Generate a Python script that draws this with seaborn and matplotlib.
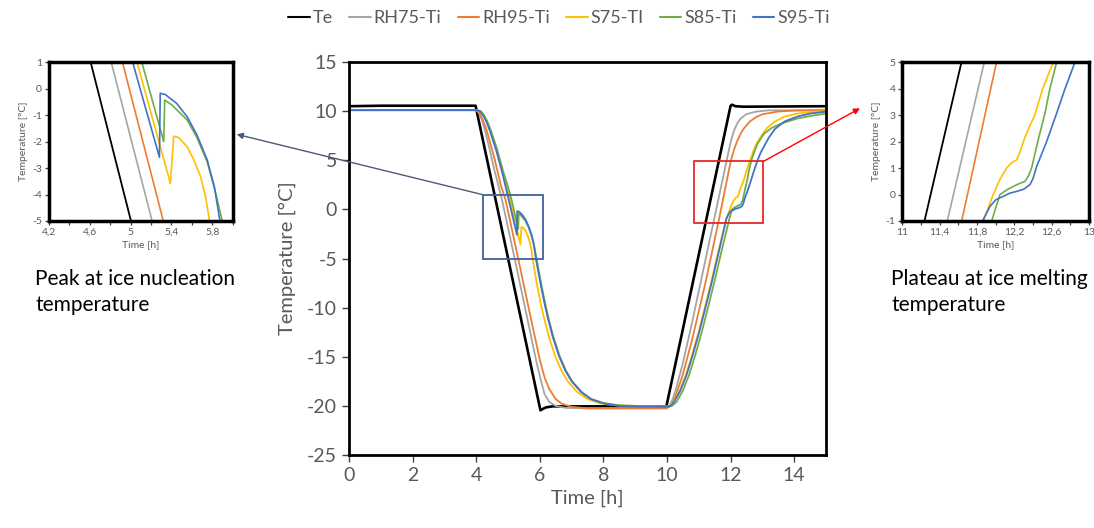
import matplotlib
matplotlib.use("Agg")
import matplotlib.pyplot as plt
import seaborn as sns
import pandas as pd
from matplotlib.patches import Rectangle
from matplotlib.lines import Line2D
from matplotlib.ticker import FixedLocator, FuncFormatter

# ---------------- data ----------------
series_names = ["Te", "RH75-Ti", "RH95-Ti", "S75-TI", "S85-Ti", "S95-Ti"]
series_colors = ["#000000", "#A5A5A5", "#ED7D31", "#FFC000", "#70AD47", "#4472C4"]

te_time = [0.0, 1.0, 2.0, 3.0, 3.98, 6.02, 6.1, 6.2, 6.4, 8.0, 9.98, 12.0, 12.05, 12.15, 12.4, 15.0]
te_temp = [10.5, 10.55, 10.55, 10.55, 10.55, -20.45, -20.3, -20.15, -20.05, -20.05, -20.05, 10.55, 10.65, 10.5, 10.45, 10.5]

rh75_time = [0.0, 3.98, 4.08, 4.18, 4.28, 4.38, 4.58, 4.81, 5.21, 5.6, 5.9, 6.05, 6.15, 6.3, 6.5, 6.8, 7.5,
             9.98, 10.08, 10.18, 10.28, 10.48, 10.78, 11.482, 11.878, 12.0, 12.1, 12.2, 12.3, 12.5, 12.8, 13.2, 15.0]
rh75_temp = [10.1, 10.1, 9.85, 9.1, 8.0, 6.7, 3.9, 1.0, -5.0, -11.0, -15.6, -17.6, -18.8, -19.6, -20.0, -20.2, -20.25,
             -20.25, -20.0, -19.3, -18.3, -15.9, -11.65, -1.0, 5.0, 6.85, 7.95, 8.7, 9.2, 9.7, 9.95, 10.08, 10.1]

rh95_time = [0.0, 3.98, 4.08, 4.18, 4.28, 4.38, 4.58, 4.78, 4.92, 5.32, 5.7, 6.0, 6.15, 6.3, 6.5, 6.7, 7.0, 7.5,
             9.98, 10.08, 10.18, 10.28, 10.48, 10.78, 11.2, 11.636, 12.0, 12.1, 12.2, 12.3, 12.4, 12.6, 12.8, 13.0,
             13.5, 14.0, 15.0]
rh95_temp = [10.1, 10.1, 9.9, 9.3, 8.5, 7.5, 5.1, 2.4, 1.0, -5.0, -10.8, -15.3, -17.1, -18.3, -19.3, -19.8, -20.1, -20.25,
             -20.25, -20.1, -19.6, -18.9, -17.0, -13.4, -7.6, -1.0, 4.85, 6.0, 6.9, 7.6, 8.17, 8.93, 9.39, 9.68,
             9.96, 10.05, 10.1]

s75_time = [0.0, 4.04, 4.14, 4.24, 4.34, 4.44, 4.64, 4.84, 5.062, 5.39, 5.422, 5.47, 5.554, 5.62, 5.685, 5.735,
            5.773, 5.84, 5.93, 6.03, 6.13, 6.28, 6.48, 6.68, 6.88, 7.18, 7.5, 7.9, 8.4, 9.0, 10.0, 10.1, 10.2, 10.4,
            10.6, 10.8, 11.0, 11.2, 11.4, 11.6, 11.77, 11.867, 11.974, 12.05, 12.118, 12.17, 12.225, 12.26, 12.296,
            12.36, 12.42, 12.503, 12.617, 12.7, 12.8, 12.95, 13.15, 13.4, 13.7, 14.1, 14.5, 15.0]
s75_temp = [10.1, 10.1, 9.96, 9.55, 8.9, 8.05, 6.1, 3.75, 1.0, -3.58, -1.79, -1.85, -2.19, -2.7, -3.32, -4.1,
            -5.0, -6.3, -8.0, -9.6, -11.0, -12.9, -14.9, -16.4, -17.5, -18.6, -19.3, -19.75, -19.95, -20.0, -20.05,
            -20.0, -19.6, -18.45, -16.8, -14.7, -12.4, -9.85, -7.25, -4.45, -2.2, -1.0, 0.0, 0.6, 1.0, 1.2, 1.31,
            1.6, 2.0, 2.55, 3.01, 3.99, 5.0, 5.8, 6.6, 7.4, 8.3, 8.95, 9.45, 9.75, 9.9, 10.0]

s85_time = [0.0, 4.05, 4.15, 4.25, 4.35, 4.45, 4.65, 4.85, 5.0, 5.11, 5.324, 5.334, 5.4, 5.554, 5.65, 5.75, 5.83,
            5.898, 5.97, 6.07, 6.17, 6.27, 6.42, 6.62, 6.82, 7.02, 7.32, 7.62, 8.0, 8.5, 9.0, 10.0, 10.15, 10.3,
            10.5, 10.7, 10.9, 11.1, 11.3, 11.5, 11.7, 11.87, 11.957, 12.046, 12.13, 12.225, 12.314, 12.35, 12.385,
            12.456, 12.528, 12.58, 12.653, 12.75, 12.85, 13.05, 13.3, 13.6, 14.1, 14.5, 15.0]
s85_temp = [10.1, 10.1, 9.97, 9.55, 8.95, 8.15, 6.2, 3.85, 2.3, 1.0, -2.0, -0.43, -0.6, -1.18, -1.85, -2.76, -3.9,
            -5.0, -6.3, -8.0, -9.6, -11.0, -12.9, -14.9, -16.4, -17.5, -18.6, -19.3, -19.7, -19.95, -20.0, -20.05,
            -20.0, -19.6, -18.45, -16.8, -14.7, -12.4, -9.85, -7.25, -4.45, -2.2, -1.0, 0.0, 0.2, 0.37, 0.5, 0.7,
            1.0, 2.07, 3.07, 3.99, 5.0, 5.9, 6.7, 7.7, 8.3, 8.75, 9.25, 9.5, 9.75]

s95_time = [0.0, 4.03, 4.13, 4.23, 4.33, 4.43, 4.63, 4.83, 5.02, 5.282, 5.29, 5.34, 5.45, 5.554, 5.65, 5.75, 5.82,
            5.875, 5.95, 6.05, 6.15, 6.25, 6.4, 6.6, 6.8, 7.0, 7.3, 7.6, 8.0, 8.5, 9.0, 10.0, 10.12, 10.22, 10.42,
            10.62, 10.82, 11.02, 11.22, 11.42, 11.62, 11.78, 11.86, 11.939, 12.0, 12.081, 12.15, 12.225, 12.3,
            12.367, 12.4, 12.439, 12.546, 12.653, 12.742, 12.849, 12.95, 13.05, 13.2, 13.4, 13.7, 14.1, 14.5, 15.0]
s95_temp = [10.1, 10.1, 9.95, 9.5, 8.85, 8.0, 6.0, 3.6, 1.0, -2.59, -0.17, -0.22, -0.55, -1.06, -1.75, -2.69, -3.7,
            -5.0, -6.3, -8.0, -9.6, -11.0, -12.9, -14.9, -16.4, -17.5, -18.6, -19.3, -19.75, -20.0, -20.05, -20.1,
            -20.0, -19.6, -18.45, -16.8, -14.7, -12.4, -9.85, -7.25, -4.45, -2.2, -1.0, -0.45, -0.2, -0.07, 0.05,
            0.12, 0.2, 0.37, 0.6, 1.06, 2.0, 3.07, 3.99, 5.0, 5.8, 6.4, 7.3, 8.2, 8.95, 9.45, 9.75, 9.95]

series_time = [te_time, rh75_time, rh95_time, s75_time, s85_time, s95_time]
series_temp = [te_temp, rh75_temp, rh95_temp, s75_temp, s85_temp, s95_temp]

main_xticks = [0, 2, 4, 6, 8, 10, 12, 14]
main_yticks = [-25, -20, -15, -10, -5, 0, 5, 10, 15]
left_xticks = [4.2, 4.6, 5.0, 5.4, 5.8]
left_xminor = [4.4, 4.8, 5.2, 5.6, 6.0]
left_yticks = [-5, -4, -3, -2, -1, 0, 1]
right_xticks = [11.0, 11.4, 11.8, 12.2, 12.6, 13.0]
right_xminor = [11.2, 11.6, 12.0, 12.4, 12.8]
right_yticks = [-1, 0, 1, 2, 3, 4, 5]

nucleation_box = (4.2, -5.05, 6.1, 1.5)    # x0, y0, x1, y1 in data units
melting_box = (10.85, -1.35, 13.03, 4.88)

# ---------------- build table ----------------
frames = [pd.DataFrame({"Time": t, "Temp": T, "Series": n})
          for n, t, T in zip(series_names, series_time, series_temp)]
df = pd.concat(frames, ignore_index=True)

sns.set_style("white")
plt.rcParams["font.family"] = ["Lato", "DejaVu Sans"]
plt.rcParams["axes.unicode_minus"] = False

W, H = 1094, 528
fig = plt.figure(figsize=(W / 100, H / 100), dpi=100)


def px_axes(l, t, r, b):
    return fig.add_axes([l / W, 1 - b / H, (r - l) / W, (b - t) / H])


GRAY = "#595959"
comma = FuncFormatter(lambda v, p: f"{v:g}".replace(".", ","))


def draw_series(a, lw_main, lw_te):
    for n, c in zip(series_names, series_colors):
        sns.lineplot(data=df[df["Series"] == n], x="Time", y="Temp", color=c,
                     lw=lw_te if n == "Te" else lw_main, ax=a, estimator=None,
                     sort=False, legend=False)


# ---------------- main axes ----------------
ax = px_axes(349, 62, 826, 455)
draw_series(ax, 1.3, 1.9)
ax.set_xlim(0, 15)
ax.set_ylim(-25, 15)
ax.xaxis.set_major_locator(FixedLocator(main_xticks))
ax.yaxis.set_major_locator(FixedLocator(main_yticks))
ax.tick_params(bottom=True, left=True, direction="out", length=5, width=1,
               color="#404040", labelcolor=GRAY, labelsize=14)
for s in ax.spines.values():
    s.set_color("black")
    s.set_linewidth(2.0)
ax.set_xlabel("Time [h]", fontsize=14.5, color=GRAY, labelpad=4)
ax.set_ylabel("Temperature [°C]", fontsize=14.5, color=GRAY, labelpad=8)

x0, y0, x1, y1 = nucleation_box
ax.add_patch(Rectangle((x0, y0), x1 - x0, y1 - y0, fill=False, ec="#42609C", lw=1.3, zorder=5))
x0r, y0r, x1r, y1r = melting_box
ax.add_patch(Rectangle((x0r, y0r), x1r - x0r, y1r - y0r, fill=False, ec="#E8262B", lw=1.3, zorder=5))

ax.annotate("", xy=(236.7 / W, 1 - 134.3 / H), xycoords="figure fraction",
            xytext=(x0, y1), textcoords="data", annotation_clip=False,
            arrowprops=dict(arrowstyle="-|>", color="#4A5A78", lw=1.0,
                            shrinkA=0, shrinkB=0, mutation_scale=9))
ax.annotate("", xy=(860 / W, 1 - 108.3 / H), xycoords="figure fraction",
            xytext=(x1r, y1r), textcoords="data", annotation_clip=False,
            arrowprops=dict(arrowstyle="-|>", color="#FF0000", lw=1.0,
                            shrinkA=0, shrinkB=0, mutation_scale=9))

# ---------------- insets ----------------
def style_inset(a, xt, xm, yt, xl, yl):
    draw_series(a, 1.2, 1.3)
    a.set_xlim(*xl)
    a.set_ylim(*yl)
    a.xaxis.set_major_locator(FixedLocator(xt))
    a.xaxis.set_minor_locator(FixedLocator(xm))
    a.yaxis.set_major_locator(FixedLocator(yt))
    a.xaxis.set_major_formatter(comma)
    a.yaxis.set_major_formatter(comma)
    a.tick_params(which="both", bottom=True, left=True, direction="out", length=3,
                  width=0.9, color="#404040", labelcolor=GRAY, labelsize=7.5, pad=2)
    for s in a.spines.values():
        s.set_color("black")
        s.set_linewidth(2.5)
    a.set_xlabel("Time [h]", fontsize=7.5, color=GRAY, labelpad=2)
    a.set_ylabel("Temperature [°C]", fontsize=7.5, color=GRAY, labelpad=3)


ins1 = px_axes(49, 62.3, 232.7, 221)
style_inset(ins1, left_xticks, left_xminor, left_yticks, (4.2, 6.0), (-5, 1))
ins2 = px_axes(902.3, 62.3, 1089, 221)
style_inset(ins2, right_xticks, right_xminor, right_yticks, (11, 13), (-1, 5))

# ---------------- texts ----------------
fig.text(35 / W, 1 - 269 / H, "Peak at ice nucleation\ntemperature", va="top", ha="left",
         fontsize=15, color="black", linespacing=1.35)
fig.text(891 / W, 1 - 269 / H, "Plateau at ice melting\ntemperature", va="top", ha="left",
         fontsize=15, color="black", linespacing=1.35)

# ---------------- legend ----------------
handles = [Line2D([], [], color=c, lw=1.5) for c in series_colors]
fig.legend(handles, series_names, loc="upper center", bbox_to_anchor=(0.511, 1.012), ncol=6,
           frameon=False, fontsize=13, handlelength=1.2, handletextpad=0.15,
           columnspacing=0.9, labelcolor=GRAY)

fig.savefig("out.png", dpi=100)
